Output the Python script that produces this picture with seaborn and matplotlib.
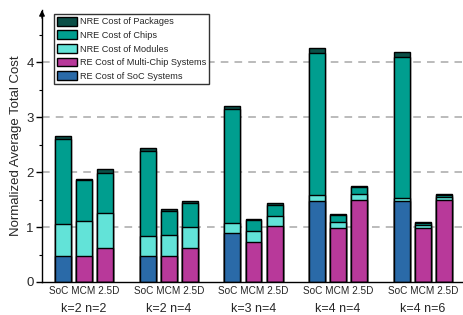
import numpy as np
import pandas as pd
import matplotlib
matplotlib.use('Agg')
import matplotlib.pyplot as plt
from matplotlib.patches import Patch
from matplotlib.ticker import MultipleLocator
import seaborn as sns

# data
groups = ['k=2 n=2', 'k=2 n=4', 'k=3 n=4', 'k=4 n=4', 'k=4 n=6']
bar_kinds = ['SoC', 'MCM', '2.5D']

re_soc = [0.48, 0, 0, 0.48, 0, 0, 0.90, 0, 0, 1.47, 0, 0, 1.47, 0, 0]
re_mcs = [0, 0.48, 0.62, 0, 0.48, 0.61, 0, 0.73, 1.02, 0, 0.99, 1.50, 0, 0.99, 1.50]
nre_modules = [0.57, 0.63, 0.63, 0.35, 0.37, 0.39, 0.17, 0.19, 0.18, 0.11, 0.11, 0.11, 0.05, 0.04, 0.04]
nre_chips = [1.56, 0.74, 0.73, 1.55, 0.45, 0.43, 2.07, 0.21, 0.20, 2.58, 0.12, 0.12, 2.58, 0.04, 0.04]
nre_packages = [0.05, 0.03, 0.07, 0.05, 0.02, 0.05, 0.07, 0.02, 0.03, 0.09, 0.02, 0.02, 0.09, 0.03, 0.03]

c_pack = '#0b4f47'
c_chip = '#009e8f'
c_mod = '#62e3d8'
c_mcs = '#b8399a'
c_soc = '#2a6aa8'

# positions: 3 bars per group, one empty slot between groups
pos = [4 * g + b for g in range(len(groups)) for b in range(len(bar_kinds))]

df = pd.DataFrame({
    'pos': pos,
    'soc': re_soc,
    'mcs': re_mcs,
    'modules': nre_modules,
    'chips': nre_chips,
    'packages': nre_packages,
})
df['re'] = df['soc'] + df['mcs']
df['top_mod'] = df['re'] + df['modules']
df['top_chip'] = df['top_mod'] + df['chips']
df['top_pack'] = df['top_chip'] + df['packages']

sns.set_style('ticks')
plt.rcParams['font.family'] = ['Liberation Sans', 'DejaVu Sans']

fig = plt.figure(figsize=(4.64, 3.15), dpi=100)
ax = fig.add_axes([42 / 464, 33 / 315, 420 / 464, 272 / 315])

for y in [1, 2, 3, 4]:
    ax.axhline(y, color='#a8a8a8', lw=1.1, ls=(0, (5, 4)), zorder=0)

kw = dict(native_scale=True, width=0.75, errorbar=None, saturation=1,
          edgecolor='black', linewidth=1.0, ax=ax)
sns.barplot(data=df, x='pos', y='top_pack', color=c_pack, **kw)
sns.barplot(data=df, x='pos', y='top_chip', color=c_chip, **kw)
sns.barplot(data=df, x='pos', y='top_mod', color=c_mod, **kw)
sns.barplot(data=df, x='pos', y='mcs', color=c_mcs, **kw)
sns.barplot(data=df, x='pos', y='soc', color=c_soc, **kw)
for p in ax.patches:
    p.set_zorder(2)
    p.set_alpha(1)

ax.set_xlim(-0.99, 18.85)
ax.set_ylim(0, 4.95)
ax.set_xticks([])
ax.set_xlabel('')
ax.yaxis.set_major_locator(MultipleLocator(1))
ax.yaxis.set_minor_locator(MultipleLocator(0.5))
ax.tick_params(axis='y', which='major', length=4, width=1, labelsize=9.5, pad=2, color='black')
ax.tick_params(axis='y', which='minor', length=2.5, width=0.8, color='black')
ax.set_ylabel('Normalized Average Total Cost', fontsize=9.5, labelpad=3)

xt = ax.get_xaxis_transform()
for g, name in enumerate(groups):
    ax.text(4 * g + 1, -0.033, ' '.join(bar_kinds), transform=xt,
            ha='center', va='center', fontsize=7.2)
    ax.text(4 * g + 1, -0.099, name, transform=xt,
            ha='center', va='center', fontsize=9)

sns.despine(ax=ax)
for s in ['left', 'bottom']:
    ax.spines[s].set_color('black')
    ax.spines[s].set_linewidth(1.0)

ax.annotate('', xy=(0, 1.01), xytext=(0, 0.96), xycoords='axes fraction',
            arrowprops=dict(arrowstyle='-|>', color='black', lw=1, mutation_scale=8),
            annotation_clip=False)

handles = [
    Patch(facecolor=c_pack, edgecolor='black', label='NRE Cost of Packages'),
    Patch(facecolor=c_chip, edgecolor='black', label='NRE Cost of Chips'),
    Patch(facecolor=c_mod, edgecolor='black', label='NRE Cost of Modules'),
    Patch(facecolor=c_mcs, edgecolor='black', label='RE Cost of Multi-Chip Systems'),
    Patch(facecolor=c_soc, edgecolor='black', label='RE Cost of SoC Systems'),
]
leg = ax.legend(handles=handles, loc='upper left', bbox_to_anchor=(12 / 420, 1 - 4 / 272),
                borderaxespad=0, fontsize=6.6, frameon=True, fancybox=False,
                handlelength=2.2, handleheight=1.1, handletextpad=0.35,
                labelspacing=0.45, borderpad=0.3)
leg.get_frame().set_edgecolor('#333333')
leg.get_frame().set_linewidth(1.0)
leg.get_frame().set_alpha(1)

fig.savefig('out.png', dpi=100)
